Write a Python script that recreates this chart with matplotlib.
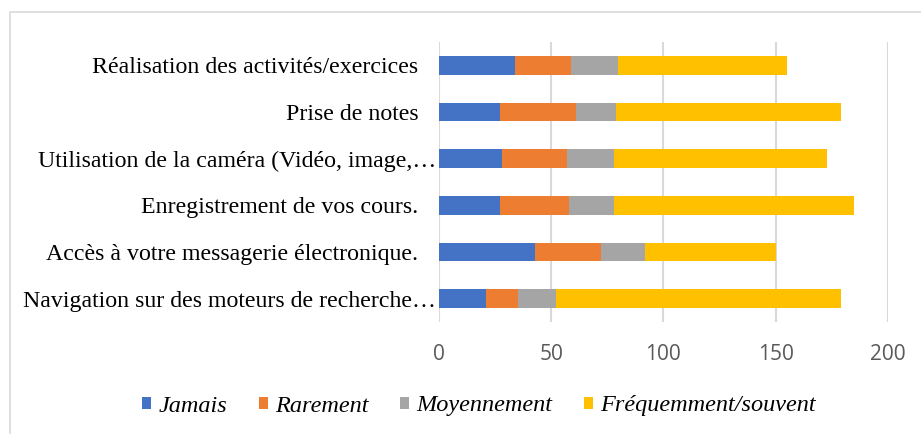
import matplotlib.pyplot as plt
import matplotlib.transforms as mtransforms
from matplotlib.patches import Rectangle

categories = [
    "Réalisation des activités/exercices",
    "Prise de notes",
    "Utilisation de la caméra (Vidéo, image,…",
    "Enregistrement de vos cours.",
    "Accès à votre messagerie électronique.",
    "Navigation sur des moteurs de recherche…",
]
series_names = ["Jamais", "Rarement", "Moyennement", "Fréquemment/souvent"]
jamais = [34, 27, 28, 27, 43, 21]
rarement = [25, 34, 29, 31, 29, 14]
moyennement = [21, 18, 21, 20, 20, 17]
frequemment = [75, 100, 95, 107, 58, 127]
colors = ["#4472C4", "#ED7D31", "#A5A5A5", "#FFC000"]

fig = plt.figure(figsize=(9.21, 4.34), dpi=100)
ax = fig.add_axes([439 / 921, 1 - 322 / 434, (887.7 - 439) / 921, 280 / 434])

# outer chart border (only left/top edges are visible in the crop)
fig.patches.append(Rectangle((10 / 921, -0.1), 1.2, 1 - 12 / 434 + 0.1,
                             transform=fig.transFigure, fill=False,
                             edgecolor="#D9D9D9", linewidth=1.2))

ypos = list(range(len(categories)))[::-1]
left = [0] * len(categories)
for name, vals, col in zip(series_names, [jamais, rarement, moyennement, frequemment], colors):
    ax.barh(ypos, vals, left=left, height=0.4, color=col, label=name, zorder=3)
    left = [l + v for l, v in zip(left, vals)]

ax.set_xlim(0, 200)
ax.set_ylim(-0.5, len(categories) - 0.5)
ax.set_xticks([0, 50, 100, 150, 200])
ax.set_yticks(ypos)
ax.set_yticklabels(categories, fontfamily="Liberation Serif", fontsize=17.2, color="black")
ax.tick_params(axis="x", labelsize=15, labelcolor="#595959", length=0, pad=16)
ax.tick_params(axis="y", length=0, pad=15)
for lbl in ax.get_xticklabels():
    lbl.set_fontfamily("Open Sans")
# truncated labels overflow towards the bars, like Excel does
shift = mtransforms.ScaledTranslation(0.18, 0, fig.dpi_scale_trans)
for lbl in ax.get_yticklabels():
    if lbl.get_text().endswith("…"):
        lbl.set_transform(lbl.get_transform() + shift)
ax.grid(axis="x", color="#D9D9D9", linewidth=1.5, zorder=0)
for s in ax.spines.values():
    s.set_visible(False)

leg = fig.legend(loc="center", bbox_to_anchor=(479 / 921, 1 - 406 / 434), ncol=4,
                 frameon=False, prop={"family": "Liberation Serif", "style": "italic", "size": 17.5},
                 handlelength=0.37, handleheight=0.37, handletextpad=0.3, columnspacing=1.3)

fig.savefig("out.png", dpi=100, facecolor="white")
